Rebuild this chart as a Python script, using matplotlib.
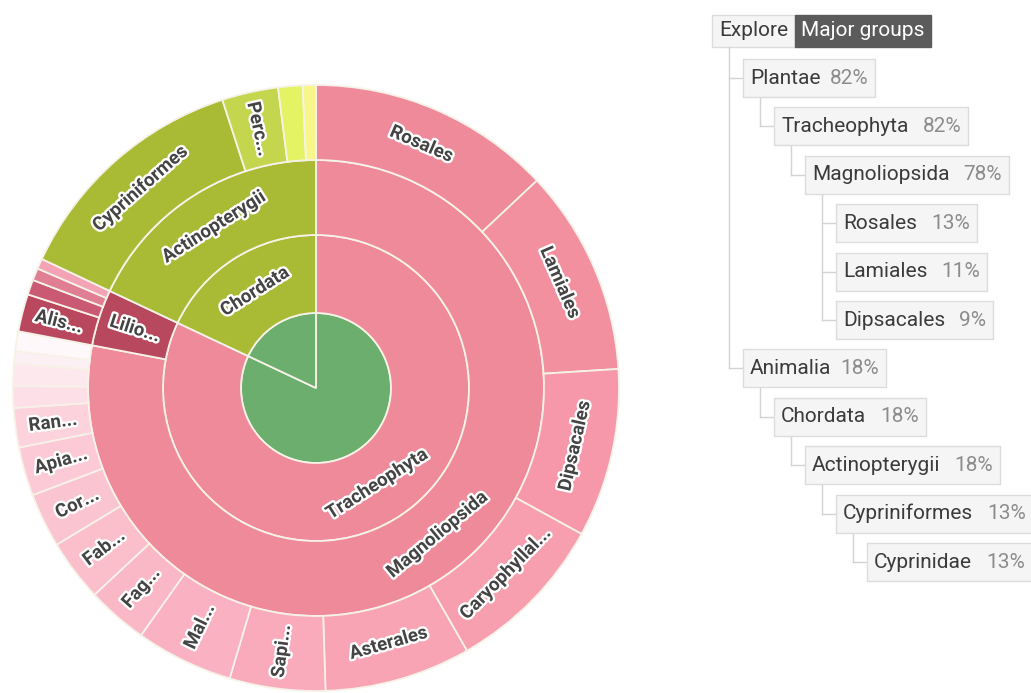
import matplotlib
matplotlib.use("Agg")
import matplotlib.pyplot as plt
import matplotlib.patheffects as pe
from matplotlib.patches import Rectangle
from matplotlib.lines import Line2D
import numpy as np

# ---------------- data ----------------
kingdoms = ["Plantae", "Animalia"]
kingdom_values = [82, 18]

phyla = ["Tracheophyta", "Chordata"]
phylum_values = [82, 18]
phylum_labels = ["Tracheophyta", "Chordata"]

classes = ["Magnoliopsida", "Liliopsida", "Actinopterygii"]
class_values = [78, 4, 18]
class_labels = ["Magnoliopsida", "Lilio...", "Actinopterygii"]

orders = ["Rosales", "Lamiales", "Dipsacales", "Caryophyllales", "Asterales",
          "Sapindales", "Malvales", "Fagales", "Fabales", "Cornales", "Apiales",
          "Ranunculales", "Magnoliopsida (small 1)", "Magnoliopsida (small 2)",
          "Magnoliopsida (small 3)", "Magnoliopsida (small 4)",
          "Alismatales", "Liliopsida (small 1)", "Liliopsida (small 2)",
          "Liliopsida (small 3)",
          "Cypriniformes", "Perciformes", "Actinopterygii (small 1)",
          "Actinopterygii (small 2)"]
order_values = [13, 11, 9, 8.7, 7.8,
                5.1, 5.2, 3.25, 3.3, 2.9, 2.6,
                2.1, 1.15, 1.2, 0.65, 1.05,
                2.0, 0.8, 0.65, 0.55,
                13, 3.0, 1.3, 0.7]
order_labels = ["Rosales", "Lamiales", "Dipsacales", "Caryophyllal...", "Asterales",
                "Sapi...", "Mal...", "Fag...", "Fab...", "Cor...", "Apia...",
                "Ran...", "", "", "", "",
                "Alis...", "", "", "",
                "Cypriniformes", "Perc...", "", ""]

tree_names = ["Plantae", "Tracheophyta", "Magnoliopsida", "Rosales", "Lamiales",
              "Dipsacales", "Animalia", "Chordata", "Actinopterygii",
              "Cypriniformes", "Cyprinidae"]
tree_pcts = [82, 82, 78, 13, 11, 9, 18, 18, 18, 13, 13]
tree_depth = [0, 1, 2, 3, 3, 3, 0, 1, 2, 3, 4]

# ---------------- colours ----------------
kingdom_colors = ["#6cae6e", "#6cae6e"]
phylum_colors = ["#ef8a9b", "#a9bb35"]
class_colors = ["#ef8a9b", "#b8485e", "#a9bb35"]
order_colors = ["#ef8a9b", "#f3909f", "#f698a9", "#f79eaf", "#f8a4b5",
                "#f9aabb", "#fab1c1", "#fab7c6", "#fbbecb", "#fbc4d1", "#fccad6",
                "#fcd2dc", "#fcdfe7", "#fde8ee", "#fdf0f4", "#fef8fa",
                "#b9485f", "#ca5a73", "#e07e94", "#f3a3b5",
                "#a9bb35", "#c4d54e", "#e3f364", "#f8f68a"]

EDGE = "#f7f2e8"
TXT = "#444444"

W, H = 1031, 693
fig = plt.figure(figsize=(W / 100, H / 100), dpi=100)
fig.patch.set_facecolor("white")

# ---------------- sunburst ----------------
cx, cy = 316, 388
half = 320
ax = fig.add_axes([(cx - half) / W, (H - cy - half) / H, 2 * half / W, 2 * half / H])

r0, r1, r2, r3 = 75, 153, 228, 303
wp = dict(edgecolor=EDGE, linewidth=1.3)
ax.pie(kingdom_values, radius=r0, colors=kingdom_colors, startangle=90,
       counterclock=False, wedgeprops=dict(**wp))
ax.pie(phylum_values, radius=r1, colors=phylum_colors, startangle=90,
       counterclock=False, wedgeprops=dict(width=r1 - r0, **wp))
ax.pie(class_values, radius=r2, colors=class_colors, startangle=90,
       counterclock=False, wedgeprops=dict(width=r2 - r1, **wp))
ax.pie(order_values, radius=r3, colors=order_colors, startangle=90,
       counterclock=False, wedgeprops=dict(width=r3 - r2, **wp))
ax.set_xlim(-half, half)
ax.set_ylim(-half, half)
ax.set_aspect("equal")
ax.axis("off")

stroke = [pe.withStroke(linewidth=3.4, foreground="white")]


def place_labels(labels, values, r_mid):
    total = float(sum(values))
    cum = 0.0
    for lab, v in zip(labels, values):
        th = 360.0 * (cum + v / 2.0) / total
        span = 360.0 * v / total
        cum += v
        if not lab:
            continue
        x = r_mid * np.sin(np.radians(th))
        y = r_mid * np.cos(np.radians(th))
        base = -th if span >= 25 else 90 - th
        rot = ((base + 90) % 180) - 90
        ax.text(x, y, lab, rotation=rot, rotation_mode="anchor", ha="center",
                va="center", fontsize=13.5, fontweight="bold", family="Roboto",
                color=TXT, path_effects=stroke)


place_labels(phylum_labels, phylum_values, (r0 + r1) / 2)
place_labels(class_labels, class_values, (r1 + r2) / 2)
place_labels(order_labels, order_values, (r2 + r3) / 2)

# ---------------- tree panel ----------------
ax2 = fig.add_axes([0, 0, 1, 1])
ax2.set_xlim(0, W)
ax2.set_ylim(H, 0)
ax2.axis("off")
renderer = fig.canvas.get_renderer()
FS = 15
LINE = "#d3d3d3"
BOX_FC = "#f5f5f5"
BOX_EC = "#dcdcdc"


def txt_width(t):
    return t.get_window_extent(renderer=renderer).width


# header
hx0, hy0, hh = 712, 15, 32
t = ax2.text(hx0 + 7, hy0 + hh / 2, "Explore", fontsize=FS, family="Roboto",
             color="#3b3b3b", va="center", ha="left", zorder=3)
w = txt_width(t)
ax2.add_patch(Rectangle((hx0, hy0), w + 14, hh, fc=BOX_FC, ec=BOX_EC, lw=1, zorder=1))
mx0 = hx0 + w + 14
t = ax2.text(mx0 + 6, hy0 + hh / 2, "Major groups", fontsize=FS, family="Roboto",
             color="white", va="center", ha="left", zorder=3)
w = txt_width(t)
ax2.add_patch(Rectangle((mx0, hy0), w + 12, hh, fc="#5b5b5b", ec="#5b5b5b", lw=1, zorder=2))

row0, step, bh = 78, 48.4, 38
left0, indent = 743, 31
nodes = []
for i, (name, pct, d) in enumerate(zip(tree_names, tree_pcts, tree_depth)):
    yc = row0 + step * i
    x0 = left0 + indent * d
    t1 = ax2.text(x0 + 7, yc, name, fontsize=FS, family="Roboto", color="#3b3b3b",
                  va="center", ha="left", zorder=3)
    w1 = txt_width(t1)
    gap = 9 if d == 0 else 14
    t2 = ax2.text(x0 + 7 + w1 + gap, yc, f"{pct}%", fontsize=FS, family="Roboto",
                  color="#8c8c8c", va="center", ha="left", zorder=3)
    w2 = txt_width(t2)
    ax2.add_patch(Rectangle((x0, yc - bh / 2), 7 + w1 + gap + w2 + 7, bh,
                            fc=BOX_FC, ec=BOX_EC, lw=1, zorder=2))
    nodes.append((x0, yc, d))

# connectors
children = {}
stack = [(-1, -1)]
for idx, (x0, yc, d) in enumerate(nodes):
    while stack and stack[-1][1] >= d:
        stack.pop()
    pid = stack[-1][0]
    children.setdefault(pid, []).append(idx)
    stack.append((idx, d))

for pid, kids in children.items():
    if pid == -1:
        px, pbot = hx0, hy0 + hh
    else:
        px, pbot = nodes[pid][0], nodes[pid][1] + bh / 2
    lx = px + 17
    last_y = nodes[kids[-1]][1]
    ax2.add_line(Line2D([lx, lx], [pbot, last_y], color=LINE, lw=1, zorder=1))
    for k in kids:
        ax2.add_line(Line2D([lx, nodes[k][0]], [nodes[k][1], nodes[k][1]],
                            color=LINE, lw=1, zorder=1))

fig.savefig("out.png", dpi=100)
